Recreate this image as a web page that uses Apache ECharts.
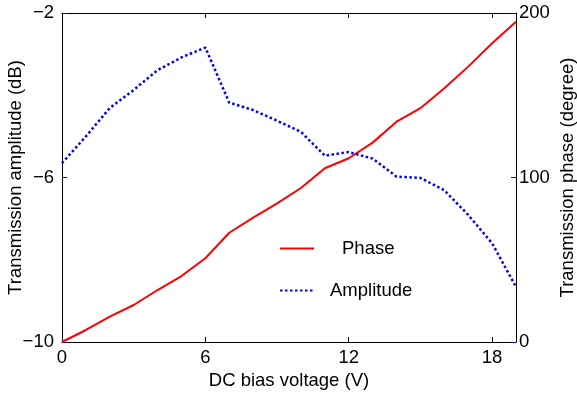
<!DOCTYPE html>
<html><head><meta charset="utf-8">
<script src="https://cdn.jsdelivr.net/npm/echarts@6/dist/echarts.min.js"></script>
<style>html,body{margin:0;padding:0;background:#fff}#c{width:577px;height:395px}</style>
</head><body><div id="c"></div>
<script>
const voltage = [0,1,2,3,4,5,6,7,8,9,10,11,12,13,14,15,16,17,18,19];
const phase = [0,7.3,15.4,22.5,31.6,40.1,50.9,66.4,75.6,84.3,93.6,105.6,111.7,121.2,133.9,142.1,154.2,167.4,181.6,194.7];
const amplitude = [-5.65,-5.0,-4.31,-3.87,-3.39,-3.08,-2.84,-4.18,-4.36,-4.62,-4.89,-5.47,-5.38,-5.54,-5.98,-6.01,-6.31,-6.91,-7.60,-8.66];
const xTicks = [0,6,12,18];
const leftTicks = [-10,-6,-2];
const rightTicks = [0,100,200];

const font = 'Liberation Sans, Arial, sans-serif';
const fs = 18.5;
const minus = v => String(v).replace('-', '\u2212');
const chart = echarts.init(document.getElementById('c'));
chart.setOption({
  animation: false,
  backgroundColor: '#fff',
  grid: {left: 62, right: 61, top: 13, bottom: 53, outerBoundsMode: 'none', containLabel: false},
  legend: [
    {data: ['Phase'], left: 279, top: 239, padding: 0, orient: 'vertical', itemWidth: 34, itemHeight: 20,
     itemStyle: {opacity: 0},
     textStyle: {fontFamily: font, fontSize: fs, color: '#000', padding: [0,0,0,23]}},
    {data: ['Amplitude'], left: 279, top: 281, padding: 0, orient: 'vertical', itemWidth: 34, itemHeight: 20,
     itemStyle: {opacity: 0},
     textStyle: {fontFamily: font, fontSize: fs, color: '#000', padding: [0,0,0,11]}}
  ],
  xAxis: [
    {type: 'value', min: 0, max: 19, interval: 6, position: 'bottom',
     name: 'DC bias voltage (V)', nameLocation: 'middle', nameGap: 29, nameMoveOverlap: false,
     nameTextStyle: {fontFamily: font, fontSize: fs, color: '#000'},
     axisLine: {onZero: false, lineStyle: {color: '#000', width: 1}},
     axisTick: {inside: true, length: 5, lineStyle: {color: '#000'}},
     axisLabel: {fontFamily: font, fontSize: fs, color: '#000', margin: 6,
       formatter: v => xTicks.includes(v) ? String(v) : ''},
     splitLine: {show: false}},
    {type: 'value', min: 0, max: 19, interval: 6, position: 'top',
     axisLine: {onZero: false, lineStyle: {color: '#000', width: 1}},
     axisTick: {inside: true, length: 5, lineStyle: {color: '#000'}},
     axisLabel: {show: false}, splitLine: {show: false}}
  ],
  yAxis: [
    {type: 'value', min: -10, max: -2, interval: 4, position: 'left',
     name: 'Transmission amplitude (dB)', nameLocation: 'middle', nameGap: 37, nameRotate: 90, nameMoveOverlap: false,
     nameTextStyle: {fontFamily: font, fontSize: fs, color: '#000'},
     axisLine: {show: true, onZero: false, lineStyle: {color: '#000', width: 1}},
     axisTick: {show: true, inside: true, length: 5, lineStyle: {color: '#0000ff'}},
     axisLabel: {fontFamily: font, fontSize: fs, color: '#000', margin: 8,
       formatter: v => leftTicks.includes(v) ? minus(v) : ''},
     splitLine: {show: false}},
    {type: 'value', min: 0, max: 200, interval: 100, position: 'right',
     name: 'Transmission phase (degree)', nameLocation: 'middle', nameGap: 42, nameRotate: 90, nameMoveOverlap: false,
     nameTextStyle: {fontFamily: font, fontSize: fs, color: '#000'},
     axisLine: {show: true, onZero: false, lineStyle: {color: '#000', width: 1}},
     axisTick: {show: true, inside: true, length: 5, lineStyle: {color: '#0000ff'}},
     axisLabel: {fontFamily: font, fontSize: fs, color: '#000', margin: 3,
       formatter: v => rightTicks.includes(v) ? String(v) : ''},
     splitLine: {show: false}}
  ],
  series: [
    {name: 'Phase', type: 'line', xAxisIndex: 0, yAxisIndex: 1, symbol: 'none',
     data: voltage.map((v,i) => [v, phase[i]]),
     lineStyle: {color: '#ff0000', width: 2}, itemStyle: {color: '#ff0000'}},
    {name: 'Amplitude', type: 'line', xAxisIndex: 0, yAxisIndex: 0, symbol: 'none',
     data: voltage.map((v,i) => [v, amplitude[i]]),
     lineStyle: {color: '#0000ff', width: 2.5, type: [2.5, 2.5]}, itemStyle: {color: '#0000ff'}}
  ]
});
</script></body></html>
